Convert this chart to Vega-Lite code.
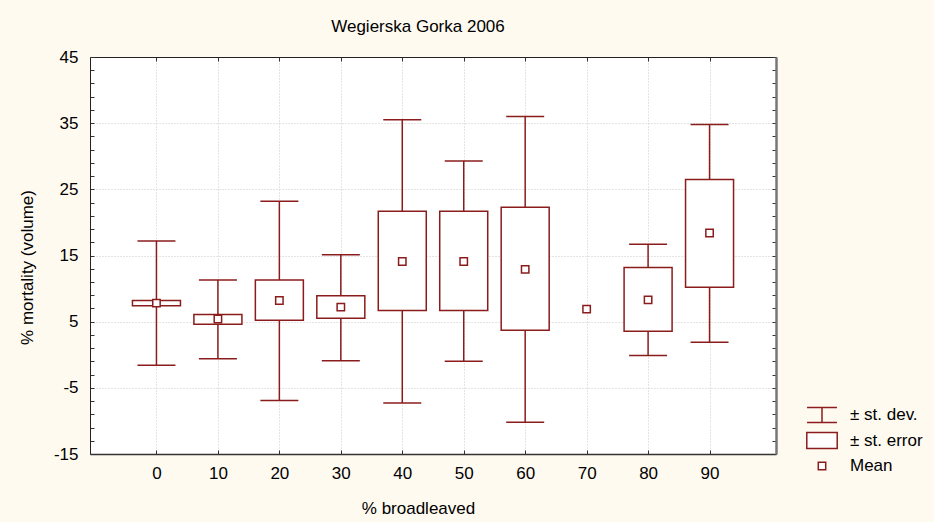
{
  "$schema": "https://vega.github.io/schema/vega-lite/v6.json",
  "width": 686,
  "height": 397,
  "autosize": "none",
  "padding": {"left": 90, "top": 57, "right": 158, "bottom": 68},
  "background": "#fffaf0",
  "view": {"fill": "white", "stroke": null},
  "config": {
    "font": "Liberation Sans",
    "axis": {"labelFont": "Liberation Sans", "titleFont": "Liberation Sans", "labelColor": "black", "titleColor": "black", "titleFontWeight": "normal"}
  },
  "title": {
    "text": "Wegierska Gorka 2006",
    "font": "Liberation Sans",
    "fontSize": 17,
    "fontWeight": "normal",
    "color": "black",
    "anchor": "middle",
    "frame": "group",
    "baseline": "alphabetic",
    "offset": -1,
    "dx": -15
  },
  "data": {
    "values": [
      {"pct": 0, "sd_lo": -1.6, "sd_hi": 17.2, "se_lo": 7.4, "se_hi": 8.2, "mean": 7.8},
      {"pct": 10, "sd_lo": -0.6, "sd_hi": 11.3, "se_lo": 4.6, "se_hi": 6.1, "mean": 5.4},
      {"pct": 20, "sd_lo": -6.9, "sd_hi": 23.2, "se_lo": 5.2, "se_hi": 11.3, "mean": 8.2},
      {"pct": 30, "sd_lo": -0.9, "sd_hi": 15.1, "se_lo": 5.5, "se_hi": 8.9, "mean": 7.2},
      {"pct": 40, "sd_lo": -7.3, "sd_hi": 35.5, "se_lo": 6.7, "se_hi": 21.7, "mean": 14.1},
      {"pct": 50, "sd_lo": -1.0, "sd_hi": 29.3, "se_lo": 6.7, "se_hi": 21.7, "mean": 14.1},
      {"pct": 60, "sd_lo": -10.2, "sd_hi": 36.0, "se_lo": 3.7, "se_hi": 22.3, "mean": 12.9},
      {"pct": 70, "sd_lo": null, "sd_hi": null, "se_lo": null, "se_hi": null, "mean": 6.9},
      {"pct": 80, "sd_lo": -0.1, "sd_hi": 16.7, "se_lo": 3.55, "se_hi": 13.2, "mean": 8.3},
      {"pct": 90, "sd_lo": 1.9, "sd_hi": 34.8, "se_lo": 10.2, "se_hi": 26.5, "mean": 18.4}
    ]
  },
  "resolve": {"axis": {"x": "independent", "y": "independent"}},
  "layer": [
    {
      "transform": [{"filter": "datum.sd_hi != null"}],
      "mark": {"type": "rule", "color": "#8b1c1c", "strokeWidth": 1.5},
      "encoding": {
        "x": {
          "field": "pct", "type": "quantitative",
          "scale": {"domain": [-10, 100], "nice": false, "zero": false},
          "axis": {
            "orient": "bottom",
            "values": [0, 10, 20, 30, 40, 50, 60, 70, 80, 90],
            "title": "% broadleaved",
            "titleFontSize": 17,
            "titleX": 328,
            "titleY": 59,
            "titleAlign": "center",
            "titleBaseline": "alphabetic",
            "labelFontSize": 17,
            "labelPadding": 15,
            "tickSize": -4,
            "tickColor": "#333",
            "domainColor": "#333",
            "domainWidth": 1.5,
            "grid": true,
            "gridColor": "#c8c8c8",
            "gridDash": [1, 2],
            "gridWidth": 1
          }
        },
        "y": {
          "field": "sd_lo", "type": "quantitative",
          "scale": {"domain": [-15, 45], "nice": false, "zero": false},
          "axis": {
            "orient": "left",
            "values": [-15, -13, -11, -9, -7, -5, -3, -1, 1, 3, 5, 7, 9, 11, 13, 15, 17, 19, 21, 23, 25, 27, 29, 31, 33, 35, 37, 39, 41, 43, 45],
            "labelExpr": "(datum.value + 15) % 10 == 0 ? '' + datum.value : ''",
            "title": "% mortality (volume)",
            "titleFontSize": 17,
            "titleAngle": -90,
            "titleX": -63,
            "titleY": 210,
            "titleAlign": "center",
            "titleBaseline": "middle",
            "labelFontSize": 17,
            "labelPadding": 16,
            "tickSize": -4,
            "tickColor": "#333",
            "domainColor": "#222",
            "domainWidth": 1,
            "grid": true,
            "gridColor": "#c8c8c8",
            "gridDash": [1, 2],
            "gridWidth": 1,
            "gridOpacity": {"condition": {"test": "(datum.value + 15) % 10 == 0 && datum.value > -15 && datum.value < 45", "value": 1}, "value": 0}
          }
        },
        "y2": {"field": "sd_hi"}
      }
    },
    {
      "transform": [{"filter": "datum.sd_hi != null"}],
      "mark": {"type": "tick", "orient": "horizontal", "color": "#8b1c1c", "size": 38, "thickness": 1.5, "opacity": 1},
      "encoding": {
        "x": {"field": "pct", "type": "quantitative", "axis": {"orient": "top", "values": [0, 10, 20, 30, 40, 50, 60, 70, 80, 90], "labels": false, "title": null, "tickSize": -4, "tickColor": "#333", "domainColor": "#222", "domainWidth": 1, "grid": false}},
        "y": {"field": "sd_hi", "type": "quantitative", "axis": {"orient": "right", "values": [-15, -13, -11, -9, -7, -5, -3, -1, 1, 3, 5, 7, 9, 11, 13, 15, 17, 19, 21, 23, 25, 27, 29, 31, 33, 35, 37, 39, 41, 43, 45], "labels": false, "title": null, "tickSize": -4, "tickColor": "#333", "domainColor": "#777", "domainWidth": 2.5, "grid": false}}
      }
    },
    {
      "transform": [{"filter": "datum.sd_lo != null"}],
      "mark": {"type": "tick", "orient": "horizontal", "color": "#8b1c1c", "size": 38, "thickness": 1.5, "opacity": 1},
      "encoding": {
        "x": {"field": "pct", "type": "quantitative", "axis": null},
        "y": {"field": "sd_lo", "type": "quantitative", "axis": null}
      }
    },
    {
      "transform": [{"filter": "datum.se_hi != null"}],
      "mark": {"type": "bar", "fill": "white", "stroke": "#8b1c1c", "strokeWidth": 1.5, "size": 48},
      "encoding": {
        "x": {"field": "pct", "type": "quantitative", "axis": null},
        "y": {"field": "se_lo", "type": "quantitative", "axis": null},
        "y2": {"field": "se_hi"}
      }
    },
    {
      "mark": {"type": "point", "fill": "white", "strokeWidth": 1.5, "size": 700, "opacity": 1, "filled": false},
      "encoding": {
        "x": {"field": "pct", "type": "quantitative", "axis": null},
        "y": {"field": "mean", "type": "quantitative", "axis": null},
        "stroke": {
          "datum": "Mean",
          "scale": {
            "domain": ["± st. dev.", "± st. error", "Mean"],
            "range": ["#8b1c1c", "#8b1c1c", "#8b1c1c"]
          },
          "legend": {
            "title": null,
            "orient": "none",
            "legendX": 718,
            "legendY": 344,
            "padding": 0,
            "rowPadding": 0.5,
            "symbolSize": 700,
            "symbolStrokeWidth": 1.5,
            "symbolFillColor": "white",
            "labelFont": "Liberation Sans",
            "labelFontSize": 17,
            "labelColor": "black",
            "labelOffset": 14
          }
        },
        "shape": {
          "datum": "Mean",
          "scale": {
            "domain": ["± st. dev.", "± st. error", "Mean"],
            "range": [
              "M-1.13,-0.57H1.13M0,-0.57V0.57M-1.13,0.57H1.13",
              "M-1.15,-0.6H1.15V0.6H-1.15Z",
              "M-0.28,-0.28H0.28V0.28H-0.28Z"
            ]
          },
          "legend": {
            "title": null,
            "orient": "none",
            "legendX": 718,
            "legendY": 344,
            "padding": 0,
            "rowPadding": 0.5,
            "symbolSize": 700,
            "symbolStrokeWidth": 1.5,
            "symbolFillColor": "white",
            "labelFont": "Liberation Sans",
            "labelFontSize": 17,
            "labelColor": "black",
            "labelOffset": 14
          }
        }
      }
    }
  ]
}
